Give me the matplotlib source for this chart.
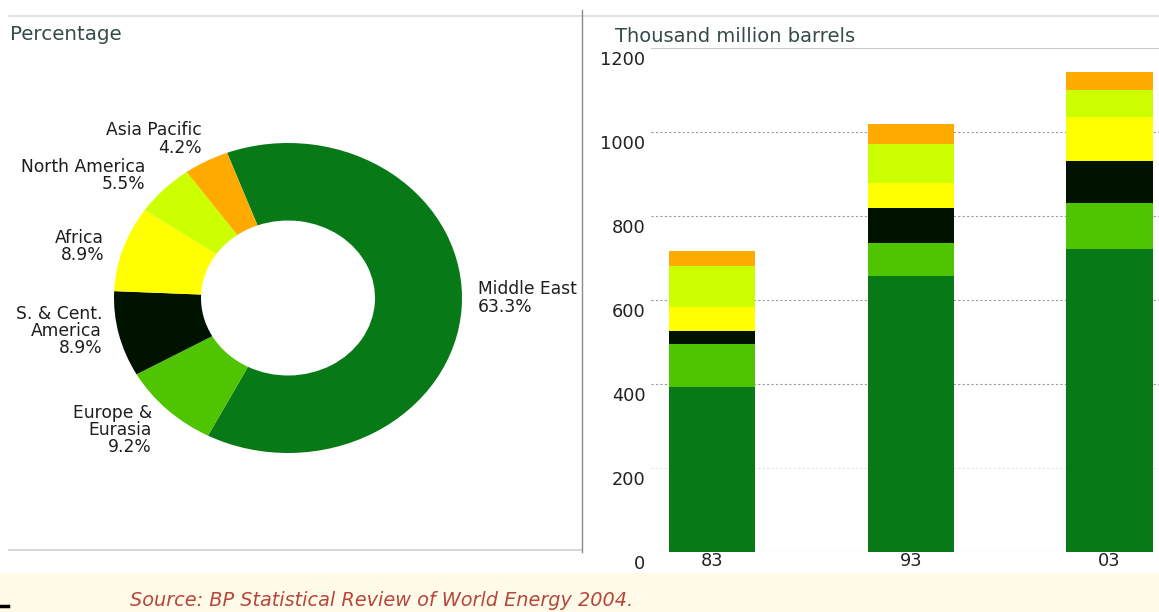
import matplotlib.pyplot as plt
import matplotlib.transforms as mtransforms
from matplotlib.lines import Line2D
from matplotlib.patches import Rectangle
import numpy as np

plt.rcParams['font.family'] = ['DejaVu Sans']

# regional shares of proved oil reserves, 2003 (percent)
regions = ['Middle East', 'Europe &\nEurasia', 'S. & Cent.\nAmerica', 'Africa',
           'North America', 'Asia Pacific']
shares = [63.3, 9.2, 8.9, 8.9, 5.5, 4.2]
colors = ['#077a17', '#4fc400', '#001200', '#ffff00', '#ccff00', '#ffaa00']

# proved reserves by region, thousand million barrels (stack order = regions)
years = ['83', '93', '03']
middle_east = [394, 657, 721]
europe_eurasia = [101, 78, 111]
sc_america = [32, 83, 100]
africa = [57, 61, 104]
north_america = [97, 92, 64]
asia_pacific = [36, 49, 44]
stacks = [middle_east, europe_eurasia, sc_america, africa, north_america, asia_pacific]
yticks = [0, 200, 400, 600, 800, 1000, 1200]

W, H = 1159, 612
fig = plt.figure(figsize=(W / 100, H / 100), dpi=100)
fig.patch.set_facecolor('white')


def fx(px):
    return px / W


def fy(py):
    return 1 - py / H


# footer band and frame lines
fig.add_artist(Rectangle((0, 0), 1, fy(573), transform=fig.transFigure,
                         facecolor='#fffbe8', edgecolor='none', zorder=0))
fig.add_artist(Line2D([fx(9), 1], [fy(16), fy(16)], transform=fig.transFigure,
                      color='#dcdcdc', lw=1.2))
fig.add_artist(Line2D([fx(9), fx(582)], [fy(550), fy(550)], transform=fig.transFigure,
                      color='#d0d0d0', lw=1.2))
fig.add_artist(Line2D([fx(582), fx(582)], [fy(10), fy(552)], transform=fig.transFigure,
                      color='#8a8a8a', lw=1.0, zorder=5))
fig.add_artist(Line2D([0, fx(8)], [fy(606), fy(606)], transform=fig.transFigure,
                      color='black', lw=2.5))

title_color = '#364b48'
fig.text(fx(10), fy(35), 'Percentage', fontsize=14.3, color=title_color, va='center')
fig.text(fx(615), fy(37), 'Thousand million barrels', fontsize=14, color=title_color,
         va='center')
fig.text(fx(130), fy(600), 'Source: BP Statistical Review of World Energy 2004.',
         fontsize=13.9, style='italic', color='#b8463c', va='center')

# donut (slightly wider than tall)
cx, cy, RX, RY = 288, 298, 174, 155
axp = fig.add_axes([fx(cx - RX), fy(cy + RY), 2 * RX / W, 2 * RY / H])
axp.pie(shares, colors=colors, startangle=110.5, counterclock=False, radius=1,
        wedgeprops=dict(width=0.5, edgecolor='none'))
axp.set_xlim(-1, 1)
axp.set_ylim(-1, 1)
axp.set_aspect('auto')
axp.axis('off')

label_pos = [(478, 298, 'left'), (152, 430, 'right'), (102, 331, 'right'),
             (104, 246.5, 'right'), (145, 175.5, 'right'), (202, 139, 'right')]
for name, share, (px, py, ha) in zip(regions, shares, label_pos):
    axp.text((px - cx) / RX, (cy - py) / RY, f'{name}\n{share:.1f}%', ha=ha, va='center',
             fontsize=12.3, color='#1e1e1e', linespacing=0.95, clip_on=False)

# stacked bars
axb = fig.add_axes([fx(651), fy(552), 1 - fx(651), fy(48) - fy(552)])
x = np.arange(len(years))
bottom = np.zeros(len(years))
for vals, c in zip(stacks, colors):
    axb.bar(x, vals, width=0.433, bottom=bottom, color=c, edgecolor='none', zorder=3)
    bottom += vals
axb.set_ylim(0, 1200)
axb.set_xlim(-0.307, 2.249)
axb.set_yticks(yticks)
axb.set_xticks(x, years)
axb.yaxis.grid(True, color='#9a9a9a', linestyle=(0, (2, 2)), lw=0.8, zorder=0)
grid = axb.get_ygridlines()
grid[1].set_color('#e2e2e2')
grid[-1].set_linestyle('-')
grid[-1].set_color('#c8c8c8')
for s in axb.spines.values():
    s.set_visible(False)
axb.tick_params(length=0, labelsize=12.8, colors='#222222')
axb.tick_params(axis='y', pad=4)
axb.tick_params(axis='x', pad=0)
axb.set_facecolor('none')
shift = mtransforms.ScaledTranslation(0, -10 / 100, fig.dpi_scale_trans)
for lab in axb.get_yticklabels():
    lab.set_transform(lab.get_transform() + shift)

fig.savefig('out.png', dpi=100)
